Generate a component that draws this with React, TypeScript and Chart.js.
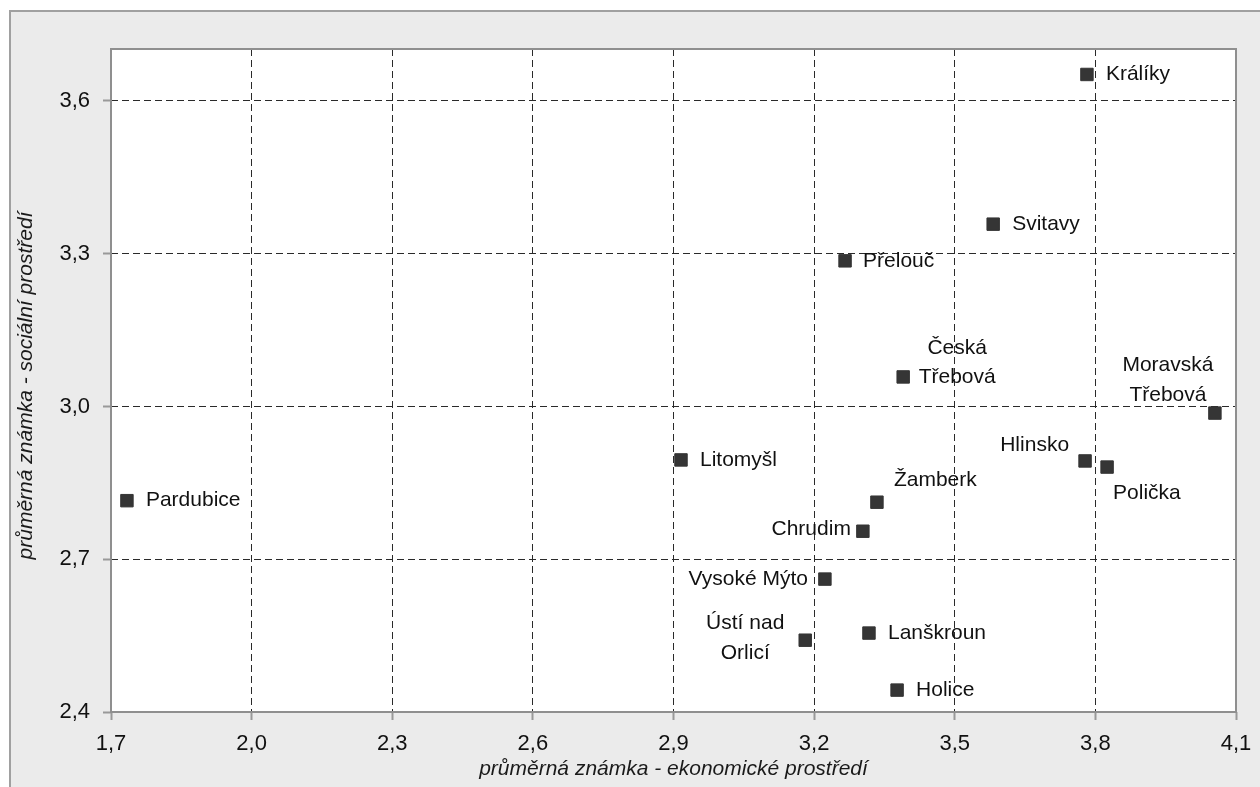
import React, { useEffect, useRef } from "react";
import { Chart, registerables } from "chart.js";

Chart.register(...registerables);

// ---- data ----
const towns = [
  "Králíky",
  "Svitavy",
  "Přelouč",
  "Česká Třebová",
  "Moravská Třebová",
  "Hlinsko",
  "Polička",
  "Litomyšl",
  "Žamberk",
  "Chrudim",
  "Pardubice",
  "Vysoké Mýto",
  "Ústí nad Orlicí",
  "Lanškroun",
  "Holice",
];
const econ = [3.782, 3.582, 3.266, 3.39, 4.055, 3.778, 3.825, 2.916, 3.334, 3.304, 1.734, 3.223, 3.181, 3.317, 3.377];
const social = [3.652, 3.358, 3.286, 3.058, 2.987, 2.893, 2.881, 2.895, 2.812, 2.755, 2.815, 2.661, 2.541, 2.555, 2.443];
const xTicks = [1.7, 2.0, 2.3, 2.6, 2.9, 3.2, 3.5, 3.8, 4.1];
const yTicks = [2.4, 2.7, 3.0, 3.3, 3.6];
const xTitle = "průměrná známka - ekonomické prostředí";
const yTitle = "průměrná známka - sociální prostředí";

// ---- label placement (style only) ----
type Place = { dx: number; dy: number; align: CanvasTextAlign; lines?: string[]; gap?: number };
const placement: Record<string, Place> = {
  "Králíky": { dx: 19, dy: 0, align: "left" },
  "Svitavy": { dx: 19, dy: 0, align: "left" },
  "Přelouč": { dx: 18, dy: 0, align: "left" },
  "Česká Třebová": { dx: 54, dy: -29, align: "center", lines: ["Česká", "Třebová"], gap: 29 },
  "Moravská Třebová": { dx: -47, dy: -48, align: "center", lines: ["Moravská", "Třebová"], gap: 30 },
  "Hlinsko": { dx: -16, dy: -16, align: "right" },
  "Polička": { dx: 6, dy: 26, align: "left" },
  "Litomyšl": { dx: 19, dy: 0, align: "left" },
  "Žamberk": { dx: 17, dy: -22, align: "left" },
  "Chrudim": { dx: -12, dy: -2, align: "right" },
  "Pardubice": { dx: 19, dy: 0, align: "left" },
  "Vysoké Mýto": { dx: -17, dy: 0, align: "right" },
  "Ústí nad Orlicí": { dx: -60, dy: -17, align: "center", lines: ["Ústí nad", "Orlicí"], gap: 30 },
  "Lanškroun": { dx: 19, dy: 0, align: "left" },
  "Holice": { dx: 19, dy: 0, align: "left" },
};

const FONT = "'Liberation Sans', Arial, sans-serif";
const fmt = (v: number) => Number(v).toFixed(1).replace(".", ",");

const framePlugin = {
  id: "frame",
  beforeDraw(chart: any) {
    const { ctx, chartArea, width, height } = chart;
    ctx.save();
    ctx.fillStyle = "#ffffff";
    ctx.fillRect(0, 0, width, height);
    ctx.fillStyle = "#ebebeb";
    ctx.fillRect(9, 10, width - 9, height - 10);
    ctx.strokeStyle = "#a0a0a0";
    ctx.lineWidth = 2;
    ctx.beginPath();
    ctx.moveTo(10, height + 5);
    ctx.lineTo(10, 11);
    ctx.lineTo(width + 5, 11);
    ctx.stroke();
    ctx.fillStyle = "#ffffff";
    ctx.fillRect(chartArea.left, chartArea.top, chartArea.right - chartArea.left, chartArea.bottom - chartArea.top);
    ctx.restore();
  },
  beforeDatasetsDraw(chart: any) {
    const { ctx, chartArea } = chart;
    ctx.save();
    ctx.strokeStyle = "#8f8f8f";
    ctx.lineWidth = 2;
    ctx.strokeRect(chartArea.left, chartArea.top, chartArea.right - chartArea.left, chartArea.bottom - chartArea.top);
    ctx.restore();
  },
  afterDatasetsDraw(chart: any) {
    const { ctx, chartArea } = chart;
    const meta = chart.getDatasetMeta(0);
    ctx.save();
    ctx.font = `21px ${FONT}`;
    ctx.fillStyle = "#111111";
    ctx.textBaseline = "middle";
    meta.data.forEach((el: any, i: number) => {
      const name = towns[i];
      const p = placement[name] || { dx: 18, dy: 0, align: "left" as CanvasTextAlign };
      const lines = p.lines || [name];
      const gap = p.gap || 30;
      ctx.textAlign = p.align;
      lines.forEach((ln, j) => {
        ctx.fillText(ln, el.x + p.dx, el.y + p.dy + j * gap);
      });
    });
    // axis titles
    ctx.font = `italic 21px ${FONT}`;
    ctx.fillStyle = "#1a1a1a";
    ctx.textAlign = "center";
    ctx.fillText(xTitle, (chartArea.left + chartArea.right) / 2, 769);
    ctx.translate(26, (chartArea.top + chartArea.bottom) / 2 + 5);
    ctx.rotate(-Math.PI / 2);
    ctx.fillText(yTitle, 0, 0);
    ctx.restore();
  },
};

export default function App() {
  const ref = useRef<HTMLCanvasElement | null>(null);
  useEffect(() => {
    document.body.style.margin = "0";
    const canvas = ref.current!;
    const chart = new Chart(canvas, {
      type: "scatter",
      data: {
        datasets: [
          {
            data: econ.map((x, i) => ({ x, y: social[i] })),
            pointStyle: "rect",
            pointRadius: 8.8,
            pointHoverRadius: 8.8,
            backgroundColor: "#353535",
            borderColor: "#353535",
            borderWidth: 1,
          },
        ],
      },
      options: {
        animation: false,
        responsive: false,
        events: [],
        layout: { padding: { top: 49, right: 24, left: 0, bottom: 0 } },
        plugins: { legend: { display: false }, tooltip: { enabled: false }, title: { display: false } },
        scales: {
          x: {
            type: "linear",
            min: 1.7,
            max: 4.1,
            afterBuildTicks: (s: any) => {
              s.ticks = xTicks.map((v) => ({ value: v }));
            },
            afterFit: (s: any) => {
              s.height = 75;
              s.paddingLeft = 0;
              s.paddingRight = 0;
            },
            ticks: {
              callback: (v: any) => fmt(v),
              font: { family: FONT, size: 22 },
              color: "#111111",
              padding: 11,
              maxRotation: 0,
              autoSkip: false,
            },
            grid: {
              color: "#2a2a2a",
              lineWidth: 1,
              drawTicks: true,
              tickLength: 8,
              tickColor: "#999999",
              tickWidth: 2,
            },
            border: { display: false, dash: [7, 4] },
          },
          y: {
            type: "linear",
            min: 2.4,
            max: 3.702,
            afterBuildTicks: (s: any) => {
              s.ticks = yTicks.map((v) => ({ value: v }));
            },
            afterFit: (s: any) => {
              s.width = 111;
              s.paddingTop = 0;
              s.paddingBottom = 0;
            },
            ticks: {
              callback: (v: any) => fmt(v),
              font: { family: FONT, size: 22 },
              color: "#111111",
              padding: 13,
              autoSkip: false,
            },
            grid: {
              color: "#2a2a2a",
              lineWidth: 1,
              drawTicks: true,
              tickLength: 8,
              tickColor: "#999999",
              tickWidth: 2,
            },
            border: { display: false, dash: [7, 4] },
          },
        },
      },
      plugins: [framePlugin],
    } as any);
    return () => chart.destroy();
  }, []);
  return (
    <div style={{ width: 1260, height: 787, position: "relative" }}>
      <canvas ref={ref} width={1260} height={787} style={{ display: "block" }} />
    </div>
  );
}
